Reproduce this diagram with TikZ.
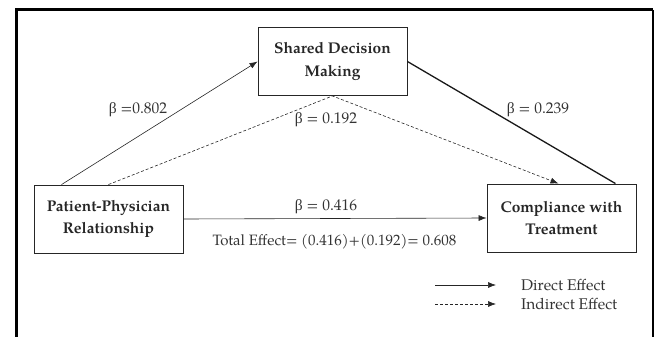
\documentclass[tikz,border=0pt]{standalone}
\usepackage{fontspec}
\setmainfont{TeX Gyre Pagella}
\newfontfamily\grk{Liberation Serif}
\usetikzlibrary{arrows.meta,calc}
\begin{document}
\begin{tikzpicture}[x=1pt,y=-1pt,
  box/.style={draw=black!85, line width=0.9pt, minimum width=149pt, minimum height=68pt,
    align=center, font=\fontsize{15.5}{22.5}\selectfont\bfseries, text=black!85, inner sep=0pt},
  lbl/.style={font=\fontsize{15.5}{18}\selectfont, text=black!80, inner sep=0pt},
  arr/.style={-{Latex[length=8pt,width=6pt]}},
  thinline/.style={line width=0.6pt, draw=black!85},
  dsh/.style={dash pattern=on 3pt off 2pt, line width=0.6pt, draw=black!85}]
\useasboundingbox (0,0) rectangle (654,337);
% frame
\draw[line width=3pt] (16.5,340) -- (16.5,10) -- (653,10);
\draw[line width=1.5pt] (653,10) -- (653,340);
% boxes
\node[box] (S) at (332.5,61.5) {Shared Decision\\Making};
\node[box] (P) at (108.5,219) {Patient-Physician\\Relationship};
\node[box] (C) at (561.5,218) {Compliance with\\Treatment};
% connectors
\draw[thinline,arr] ($(P.north west)+(28,0)$) -- (S.west);
\draw[line width=1.3pt, draw=black!90] (S.east) -- ($(C.north east)+(-21,0)$);
\draw[dsh,arr] (P.north) -- (S.south) -- ($(C.north)+(-3,0)$);
\draw[thinline,arr] (P.east) -- (C.west);
% labels
\node[lbl] (b1) at (138,110) {{\grk β} =0.802};
\node[lbl] (b2) at (538,110) {{\grk β} = 0.239};
\node[lbl] (b3) at (326,120) {{\grk β} = 0.192};
\node[lbl] (b4) at (326,207) {{\grk β} = 0.416};
\node[lbl, font=\fontsize{15}{18}\selectfont] (tot) at (334.5,242) {Total Effect= (0.416)+(0.192)= 0.608};
% legend
\coordinate (l1a) at (435,285);
\coordinate (l1b) at (496,285);
\coordinate (l2a) at (435,304);
\coordinate (l2b) at (496,304);
\draw[thinline,arr] (l1a) -- (l1b);
\draw[dsh,arr] (l2a) -- (l2b);
\node[lbl, anchor=west] (d1) at (521,285) {Direct Effect};
\node[lbl, anchor=west] (d2) at (521,304) {Indirect Effect};
\end{tikzpicture}
\end{document}
